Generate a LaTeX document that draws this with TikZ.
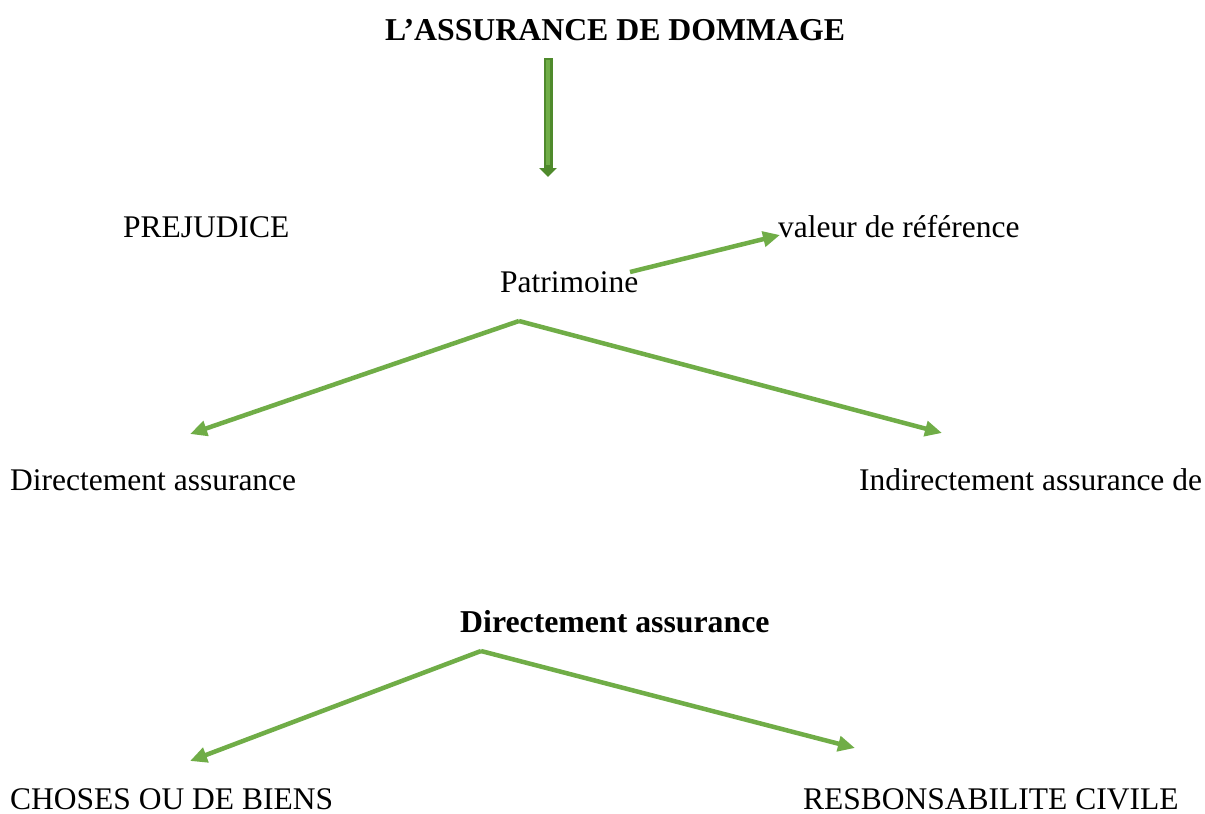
\documentclass[tikz,border=0pt]{standalone}
\usepackage{fontspec}
\setmainfont{Liberation Serif}
\usetikzlibrary{arrows.meta}
\definecolor{grn}{HTML}{70AD47}
\definecolor{dgrn}{HTML}{4F8A2C}
\begin{document}
\begin{tikzpicture}[x=1pt,y=-1pt,
  lbl/.style={anchor=base west,inner sep=0pt,font=\fontsize{31.5}{36}\selectfont},
  conn/.style={draw=grn,line width=4.5pt,-{Triangle[length=17pt,width=15pt]}}]
\useasboundingbox[fill=white] (0,0) rectangle (1205,814);
\node[lbl,font=\fontsize{31.8}{36}\selectfont\bfseries] (title) at (385,40) {L’ASSURANCE DE DOMMAGE};
\node[lbl] (prej) at (123,237) {PREJUDICE};
\node[lbl] (val) at (778,237) {valeur de référence};
\node[lbl] (pat) at (500,292) {Patrimoine};
\node[lbl] (dir) at (10,490) {Directement assurance};
\node[lbl] (ind) at (859,490) {Indirectement assurance de};
\node[lbl,font=\fontsize{31.8}{36}\selectfont\bfseries] (dir2) at (460,632) {Directement assurance};
\node[lbl] (chos) at (10,809) {CHOSES OU DE BIENS};
\node[lbl] (resp) at (803,809) {RESBONSABILITE CIVILE};
% title arrow
\coordinate (ta) at (548,58);
\coordinate (tb) at (548,177);
\draw[draw=dgrn,line width=9pt,-{Triangle[length=9pt,width=17pt]},fill=dgrn] (ta) -- (tb);
\draw[draw=grn,line width=3.5pt] ([yshift=-2pt]ta) -- ([yshift=12pt]tb);
% Patrimoine -> valeur
\coordinate (p1) at (630,272);
\coordinate (v1) at (780,235);
\draw[conn] (p1) -- (v1);
% fork 1
\coordinate (a1) at (519,321);
\coordinate (l1) at (190,434);
\coordinate (r1) at (942,433);
\draw[conn] (a1) -- (l1);
\draw[conn] (a1) -- (r1);
% fork 2
\coordinate (a2) at (481,651);
\coordinate (l2) at (190,761);
\coordinate (r2) at (855,748);
\draw[conn] (a2) -- (l2);
\draw[conn] (a2) -- (r2);
\end{tikzpicture}
\end{document}
